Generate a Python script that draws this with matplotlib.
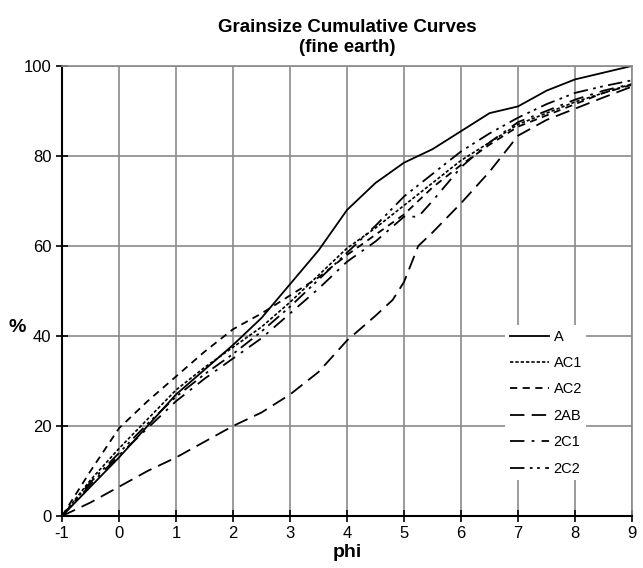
import matplotlib

matplotlib.use("Agg")
import matplotlib.pyplot as plt

plt.rcParams["font.family"] = ["Liberation Sans", "DejaVu Sans"]
plt.rcParams["axes.unicode_minus"] = False

# grain size (phi) and cumulative percent per horizon
phi = [-1, -0.5, 0, 0.5, 1, 1.5, 2, 2.5, 3, 3.5, 4, 4.5, 5, 5.5, 6, 6.5, 7, 7.5, 8, 8.5, 9]
a_vals = [0, 6.5, 13, 20, 27, 32.5, 38, 44, 51.5, 59, 68, 74, 78.5, 81.5, 85.5, 89.5, 91, 94.5, 97, 98.5, 100]
ac1_vals = [0, 8, 15, 21.5, 28, 33, 37.5, 42, 47.5, 53.5, 59.5, 64, 69, 74, 79, 83, 87, 89.5, 92, 94, 96]
ac2_vals = [0, 10, 19.5, 25.5, 31, 36.5, 41.5, 45, 49, 53, 58, 62.5, 67, 73, 78, 82.5, 86.5, 89, 91.5, 94, 95.8]
c2_vals = [0, 7.5, 14, 20.5, 26.5, 31.5, 36, 41, 46.5, 52.5, 58.5, 64.5, 71, 76, 81, 85, 88.5, 91.5, 94, 95.5, 96.8]

phi_2ab = [-1, -0.5, 0, 0.5, 1, 1.5, 2, 2.5, 3, 3.5, 4, 4.5, 4.8, 5, 5.25, 5.5, 6, 6.5, 7, 7.5, 8, 8.5, 9]
ab_vals = [0, 3, 6.5, 10, 13, 16.5, 20, 23, 27, 32, 39, 44.5, 48, 52, 60, 63, 69.5, 76.5, 84.5, 88, 90.5, 93, 95.4]

phi_2c1 = [-1, -0.5, 0, 0.5, 1, 1.5, 2, 2.5, 3, 3.5, 4, 4.5, 5, 5.25, 5.5, 6, 6.5, 7, 7.5, 8, 8.5, 9]
c1_vals = [0, 7, 13.5, 19.5, 25.5, 30.5, 35, 39.5, 45, 50.5, 56.5, 61, 66.5, 66.5, 70, 77.5, 83, 87.5, 90, 92.5, 94.5, 96]

fig = plt.figure(figsize=(6.43, 5.68), dpi=100)
ax = fig.add_axes([0.0964, 0.0915, 0.8866, 0.7925])

ax.plot(phi, a_vals, color="black", lw=1.3, ls="-", label="A")
ax.plot(phi, ac1_vals, color="black", lw=1.2, ls=(0, (2, 1.2)), label="AC1")
ax.plot(phi, ac2_vals, color="black", lw=1.3, ls=(0, (4, 3)), label="AC2")
ax.plot(phi_2ab, ab_vals, color="black", lw=1.3, ls=(0, (8, 4)), label="2AB")
ax.plot(phi_2c1, c1_vals, color="black", lw=1.3, ls=(0, (8, 4, 1.5, 4)), label="2C1")
ax.plot(phi, c2_vals, color="black", lw=1.3, ls=(0, (8, 3, 1.5, 2.5, 1.5, 3)), label="2C2")

ax.set_xlim(-1, 9)
ax.set_ylim(0, 100)
ax.set_xticks(range(-1, 10))
ax.set_yticks(range(0, 101, 20))
ax.grid(True, color="#8a8a8a", lw=1.2)
ax.set_axisbelow(True)
ax.tick_params(direction="inout", length=8, width=1.2, labelsize=12, colors="black")
for side in ("top", "right"):
    ax.spines[side].set_color("#8a8a8a")
    ax.spines[side].set_linewidth(1.2)
for side in ("left", "bottom"):
    ax.spines[side].set_linewidth(1.5)

ax.set_title("Grainsize Cumulative Curves\n(fine earth)", fontsize=13.5, fontweight="bold", pad=10)
ax.set_xlabel("phi", fontsize=14, fontweight="bold", labelpad=2)
ax.set_ylabel("%", fontsize=14, fontweight="bold", rotation=0, labelpad=14)
ax.yaxis.set_label_coords(-0.078, 0.40)

leg = ax.legend(loc="upper left", bbox_to_anchor=(0.765, 0.44), frameon=True, framealpha=1,
                edgecolor="none", fontsize=10.5, handlelength=2.7, handletextpad=0.3,
                labelspacing=0.85, borderpad=0.3, fancybox=False)

fig.savefig("out.png", dpi=100)
